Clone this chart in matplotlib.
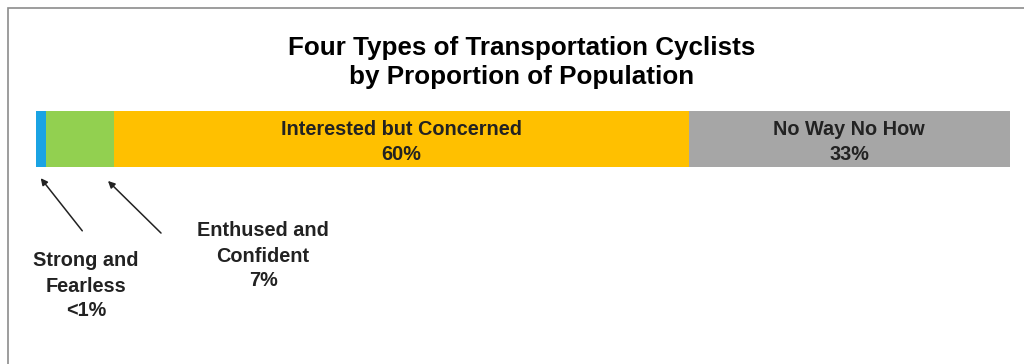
import matplotlib
matplotlib.use("Agg")
import matplotlib.pyplot as plt
from matplotlib.patches import Rectangle

categories = ["Strong and Fearless", "Enthused and Confident", "Interested but Concerned", "No Way No How"]
values = [1, 7, 59, 33]
labels = ["<1%", "7%", "60%", "33%"]
colors = ["#1AA3E3", "#92D050", "#FFC000", "#A6A6A6"]

plt.rcParams['font.family'] = ['Liberation Sans', 'DejaVu Sans']

W, H = 1024, 364
fig = plt.figure(figsize=(W / 100, H / 100), dpi=100)

# frame
fig.patches.append(Rectangle((8 / W, -0.1), 1.2, 1 - 8 / H + 0.1, transform=fig.transFigure,
                             fill=False, edgecolor="#8c8c8c", linewidth=1.2))

ax = fig.add_axes([36 / W, 1 - 167 / H, (1010 - 36) / W, (167 - 111) / H])
left = 0
for v, c in zip(values, colors):
    ax.barh(0, v, left=left, height=1, color=c, edgecolor="none")
    left += v
ax.set_xlim(0, sum(values))
ax.set_ylim(-0.5, 0.5)
ax.axis("off")

txtc = "#222222"
fs = 14.3
ls = 1.4
# labels inside bar
starts = [sum(values[:i]) for i in range(len(values))]
for i in (2, 3):
    cx = starts[i] + values[i] / 2
    ax.text(cx, -0.055, categories[i] + "\n" + labels[i], ha="center", va="center",
            fontsize=fs, fontweight="bold", color=txtc, linespacing=ls)

fig.text(522 / W, 1 - 62.5 / H, "Four Types of Transportation Cyclists\nby Proportion of Population",
         ha="center", va="center", fontsize=18.7, fontweight="bold", color="black", linespacing=1.29)

ax_f = fig.add_axes([0, 0, 1, 1], facecolor="none")
ax_f.set_xlim(0, W)
ax_f.set_ylim(H, 0)
ax_f.axis("off")

ax_f.annotate("", xy=(39, 176), xytext=(84, 233),
              arrowprops=dict(arrowstyle="-|>", color="#222222", lw=1.1, mutation_scale=10))
ax_f.annotate("", xy=(106, 179), xytext=(163, 235),
              arrowprops=dict(arrowstyle="-|>", color="#222222", lw=1.1, mutation_scale=10))

ax_f.text(86, 286, "Strong and\nFearless\n" + labels[0], ha="center", va="center",
          fontsize=fs, fontweight="bold", color=txtc, linespacing=ls)
ax_f.text(263, 256, "Enthused and\nConfident\n" + labels[1], ha="center", va="center",
          fontsize=fs, fontweight="bold", color=txtc, linespacing=ls)

fig.savefig("out.png", dpi=100, facecolor="white")
